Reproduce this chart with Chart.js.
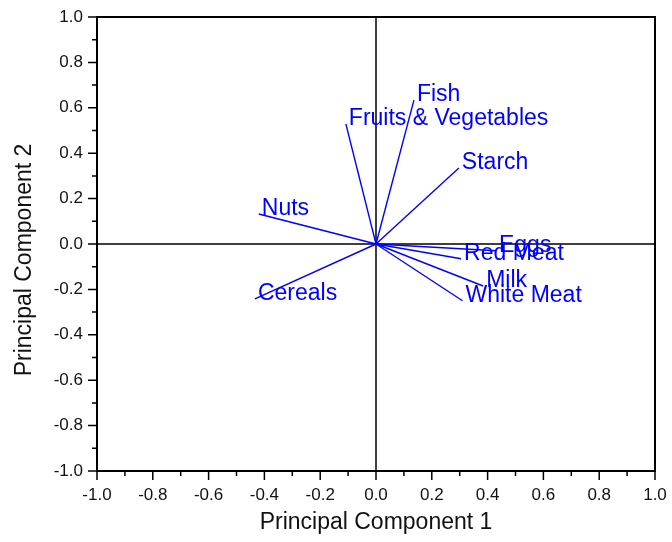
<!DOCTYPE html>
<html>
<head>
<meta charset="utf-8">
<script src="https://cdn.jsdelivr.net/npm/chart.js@4.4.0/dist/chart.umd.min.js"></script>
<style>
    html, body { margin: 0; padding: 0; background: #fff; }
    #wrap { width: 672px; height: 542px; }
</style>
</head>
<body>
<div id="wrap"><canvas id="pca-chart"></canvas></div>
<script>
// Loadings
const variables = ['Fish', 'Fruits & Vegetables', 'Starch', 'Nuts', 'Cereals', 'Red Meat', 'Eggs', 'Milk', 'White Meat'];
const pc1 = [0.136, -0.108, 0.297, -0.42, -0.434, 0.305, 0.43, 0.384, 0.31];
const pc2 = [0.634, 0.529, 0.335, 0.132, -0.242, -0.065, -0.03, -0.185, -0.25];

// Axis tick labels (major) and titles
const tickLabels = ['-1.0', '-0.8', '-0.6', '-0.4', '-0.2', '0.0', '0.2', '0.4', '0.6', '0.8', '1.0'];
const xTitle = 'Principal Component 1';
const yTitle = 'Principal Component 2';

const FONT = "'Liberation Sans', Arial, sans-serif";
const BLUE = '#0000ff';

const datasets = variables.map((name, i) => ({
    label: name,
    data: [{ x: 0, y: 0 }, { x: pc1[i], y: pc2[i] }],
    showLine: true,
    borderColor: BLUE,
    borderWidth: 1.4,
    pointRadius: 0,
    pointHoverRadius: 0
}));

const tickCallback = (value) => {
    const found = tickLabels.find(t => Math.abs(parseFloat(t) - value) < 1e-6);
    return found !== undefined ? found : '';
};

const axisBase = (fit) => ({
    type: 'linear',
    min: -1,
    max: 1,
    ticks: {
        stepSize: 0.1,
        autoSkip: false,
        maxRotation: 0,
        padding: 5,
        color: '#111',
        font: { family: FONT, size: 17 },
        callback: tickCallback
    },
    grid: {
        drawOnChartArea: false,
        drawTicks: true,
        tickLength: 9,
        color: 'rgba(0,0,0,0)'
    },
    border: { display: false },
    afterFit: fit
});

// frame, zero lines, minor/major ticks, labels, titles
const biplotDecor = {
    id: 'biplotDecor',
    beforeDatasetsDraw(chart) {
        const { ctx, chartArea: a, scales: { x, y } } = chart;
        ctx.save();
        ctx.strokeStyle = '#000';
        ctx.lineWidth = 1.5;
        // zero lines
        ctx.beginPath();
        ctx.moveTo(a.left, y.getPixelForValue(0));
        ctx.lineTo(a.right, y.getPixelForValue(0));
        ctx.moveTo(x.getPixelForValue(0), a.top);
        ctx.lineTo(x.getPixelForValue(0), a.bottom);
        ctx.stroke();
        // frame
        ctx.lineWidth = 2;
        ctx.strokeRect(a.left, a.top, a.right - a.left, a.bottom - a.top);
        // ticks
        ctx.lineWidth = 1.5;
        ctx.beginPath();
        for (let i = -10; i <= 10; i++) {
            const v = i / 10;
            const len = i % 2 === 0 ? 9 : 5;
            const py = y.getPixelForValue(v);
            ctx.moveTo(a.left - len, py);
            ctx.lineTo(a.left, py);
            const px = x.getPixelForValue(v);
            ctx.moveTo(px, a.bottom);
            ctx.lineTo(px, a.bottom + len);
        }
        ctx.stroke();
        ctx.restore();
    },
    afterDatasetsDraw(chart) {
        const { ctx, scales: { x, y } } = chart;
        ctx.save();
        ctx.fillStyle = BLUE;
        ctx.font = '23px ' + FONT;
        ctx.textAlign = 'left';
        ctx.textBaseline = 'middle';
        variables.forEach((name, i) => {
            ctx.fillText(name, x.getPixelForValue(pc1[i]) + 3, y.getPixelForValue(pc2[i]) - 5);
        });
        ctx.restore();
    },
    afterDraw(chart) {
        const { ctx, chartArea: a } = chart;
        ctx.save();
        ctx.fillStyle = '#111';
        ctx.font = '23px ' + FONT;
        ctx.textAlign = 'center';
        ctx.textBaseline = 'middle';
        ctx.fillText(xTitle, (a.left + a.right) / 2, 523);
        ctx.translate(25, (a.top + a.bottom) / 2 + 16);
        ctx.rotate(-Math.PI / 2);
        ctx.fillText(yTitle, 0, 0);
        ctx.restore();
    }
};

new Chart(document.querySelector('#pca-chart'), {
    type: 'scatter',
    data: { datasets: datasets },
    options: {
        responsive: true,
        maintainAspectRatio: false,
        animation: false,
        layout: { padding: { top: 17, right: 17, left: 0, bottom: 0 } },
        scales: {
            x: axisBase(s => { s.height = 71; }),
            y: axisBase(s => { s.width = 97; })
        },
        plugins: {
            legend: { display: false },
            tooltip: { enabled: false }
        }
    },
    plugins: [biplotDecor]
});
</script>
</body>
</html>
